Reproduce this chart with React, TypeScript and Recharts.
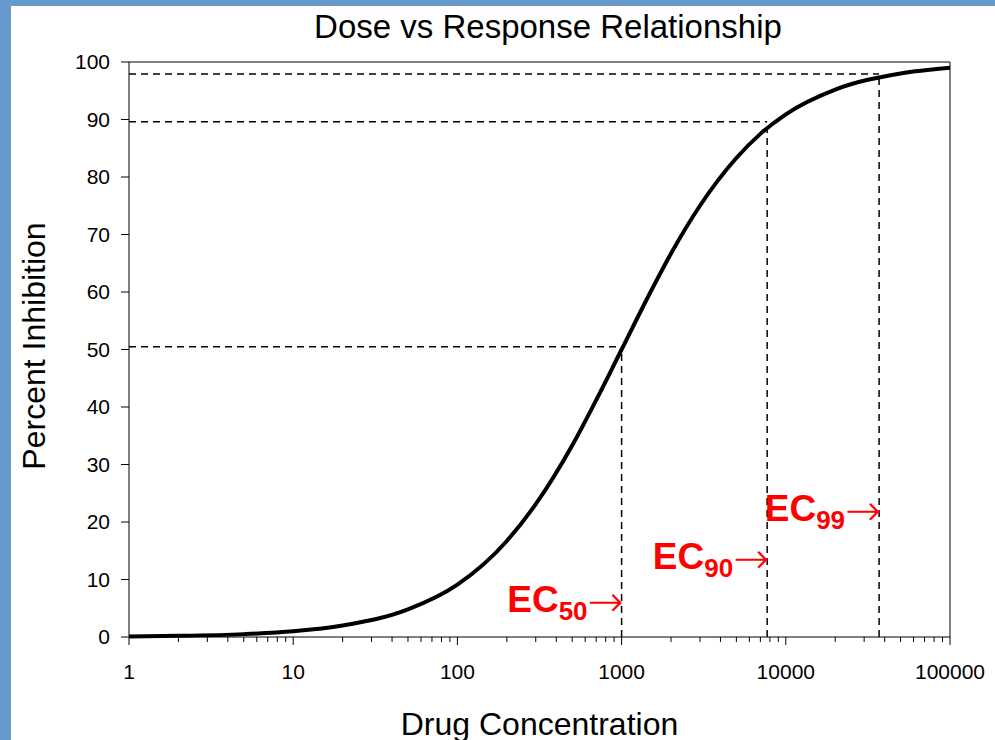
import { LineChart, Line, XAxis, YAxis, ReferenceLine, ReferenceDot } from "recharts";

// points (concentration on a log axis)
const concentration = [1, 2, 5, 10, 20, 50, 100, 200, 300, 500, 700, 1000, 1500, 2000, 3000, 5000, 7000, 10000, 20000, 50000, 100000];
const inhibition = [0.1, 0.2, 0.5, 1.0, 2.0, 4.8, 9.1, 16.7, 23.1, 33.3, 41.2, 50.0, 60.0, 66.7, 75.0, 83.3, 87.5, 90.9, 95.2, 98.0, 99.0];

const majorTicks = [1, 10, 100, 1000, 10000, 100000];
const yTicks = [0, 10, 20, 30, 40, 50, 60, 70, 80, 90, 100];

// EC markers
const ecNames = ["50", "90", "99"];
const ecConc = [1000, 7700, 37000];
const ecResponse = [50.5, 89.6, 97.9];
const ecLabelLevel = [6.1, 13.6, 21.9];

const minorTicks = majorTicks.slice(0, -1).flatMap((d) => [2, 3, 4, 5, 6, 7, 8, 9].map((m) => d * m));
const xTicks = [...majorTicks, ...minorTicks].sort((a, b) => a - b);

const curve = concentration.map((c, i) => ({ x: c, y: inhibition[i] }));

const FONT = "'Liberation Sans', Arial, sans-serif";

const XTick = ({ x, y, payload }: any) => {
  const major = majorTicks.includes(payload.value);
  return (
    <g>
      <line x1={x} y1={y} x2={x} y2={y + (major ? 8 : 5)} stroke="#000" strokeWidth={1} />
      {major && (
        <text x={x} y={y + 42} textAnchor="middle" fontSize={21} fill="#000">
          {payload.value}
        </text>
      )}
    </g>
  );
};

const EcLabel = ({ cx, cy, name }: any) => (
  <text x={cx + 2} y={cy + 10} textAnchor="end" fill="#ff0000" fontWeight="bold">
    <tspan fontSize={37}>EC</tspan>
    <tspan fontSize={26} dy={8}>{name}</tspan>
    <tspan fontSize={43} fontWeight={200} fontFamily="'DejaVu Sans'" dy={-4}>→</tspan>
  </text>
);

export default function App() {
  return (
    <div style={{ position: "absolute", left: 0, top: 0, width: 995, height: 740, background: "#6699cc", fontFamily: FONT }}>
      <div style={{ position: "absolute", left: 11, top: 6, width: 984, height: 734, background: "#fff" }} />
      <div
        style={{
          position: "absolute",
          left: 0,
          width: 1096,
          top: 11,
          fontSize: 33,
          lineHeight: "32px",
          textAlign: "center",
          color: "#000",
        }}
      >
        Dose vs Response Relationship
      </div>
      <div style={{ position: "absolute", left: 0, top: 0 }}>
        <LineChart width={995} height={740} data={curve} margin={{ top: 62, right: 45, bottom: 0, left: 0 }}>
          <XAxis
            dataKey="x"
            type="number"
            scale="log"
            domain={[1, 100000]}
            allowDataOverflow
            ticks={xTicks}
            interval={0}
            tickSize={0}
            tickMargin={0}
            tickLine={false}
            tick={<XTick />}
            height={103}
            stroke="#000"
            label={{ value: "Drug Concentration", position: "insideBottom", offset: 5, fontSize: 32, fill: "#000" }}
          />
          <YAxis
            type="number"
            domain={[0, 100]}
            ticks={yTicks}
            interval={0}
            width={129}
            tickSize={8}
            tickMargin={11}
            stroke="#000"
            tick={{ fontSize: 21, fill: "#000" }}
            label={{
              content: () => (
                <text transform="translate(45,346) rotate(-90)" textAnchor="middle" fontSize={32} fill="#000">
                  Percent Inhibition
                </text>
              ),
            }}
          />
          <ReferenceLine y={100} stroke="#000" ifOverflow="visible" />
          <ReferenceLine x={100000} stroke="#000" ifOverflow="visible" />
          {ecNames.map((n, i) => (
            <ReferenceLine
              key={"h" + n}
              segment={[{ x: 1, y: ecResponse[i] }, { x: ecConc[i], y: ecResponse[i] }]}
              stroke="#000"
              strokeWidth={1.5}
              strokeDasharray="7 5"
            />
          ))}
          {ecNames.map((n, i) => (
            <ReferenceLine
              key={"v" + n}
              segment={[{ x: ecConc[i], y: 0 }, { x: ecConc[i], y: ecResponse[i] }]}
              stroke="#000"
              strokeWidth={1.5}
              strokeDasharray="7 5"
            />
          ))}
          <Line
            dataKey="y"
            type="monotone"
            stroke="#000"
            strokeWidth={4}
            dot={false}
            isAnimationActive={false}
          />
          {ecNames.map((n, i) => (
            <ReferenceDot
              key={"l" + n}
              x={ecConc[i]}
              y={ecLabelLevel[i]}
              r={0}
              shape={(p: any) => <EcLabel cx={p.cx} cy={p.cy} name={n} />}
            />
          ))}
        </LineChart>
      </div>
    </div>
  );
}
